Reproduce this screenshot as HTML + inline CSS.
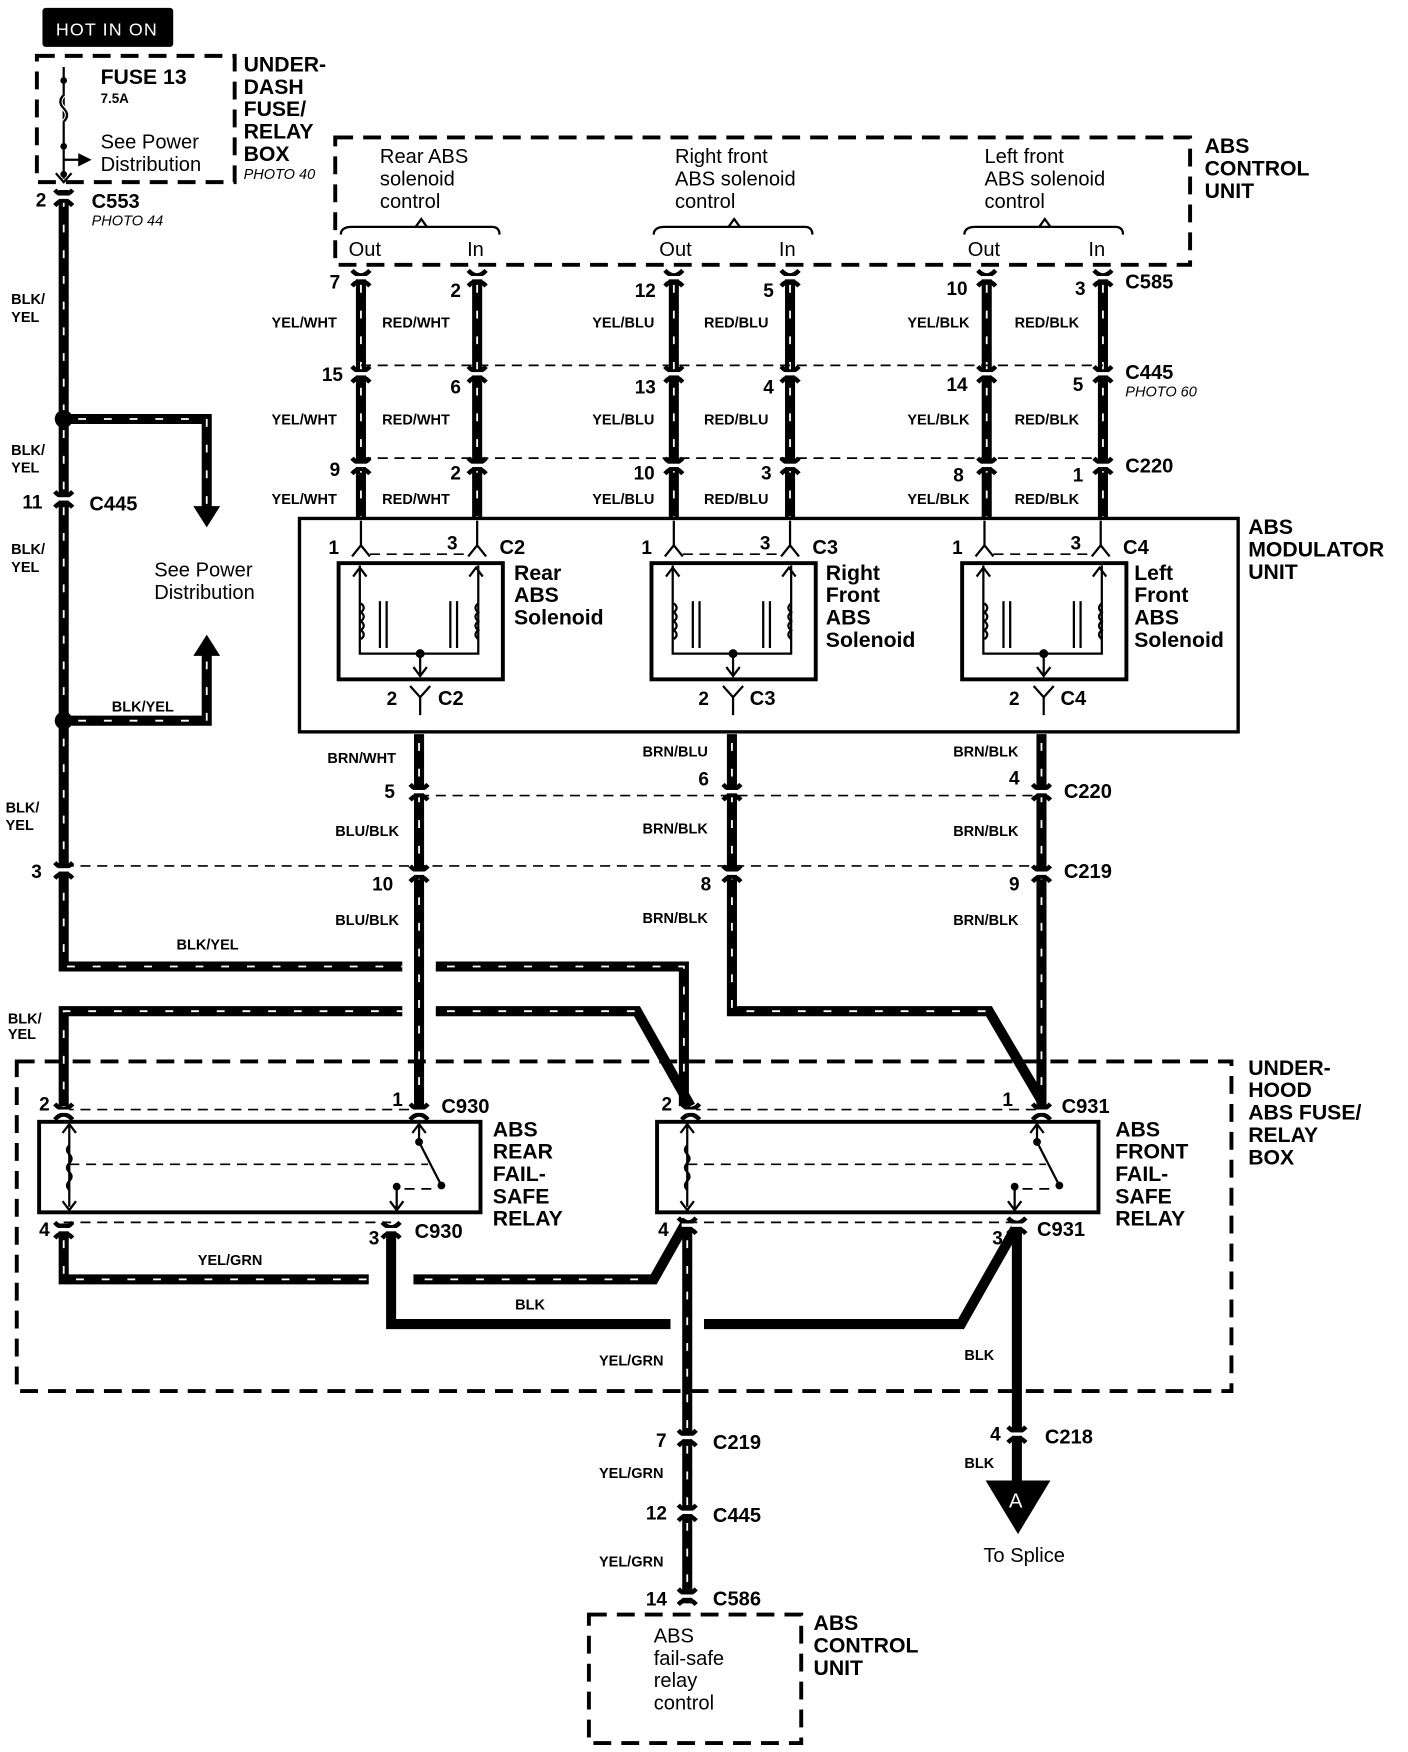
<!DOCTYPE html>
<html><head><meta charset="utf-8"><style>
html,body{margin:0;padding:0;background:#fff}
svg{display:block}
text{font-family:"Liberation Sans",Arial,sans-serif;fill:#000}
.b{font-weight:bold}
.w{fill:none;stroke:#000;stroke-width:9;stroke-linejoin:miter}
.d{fill:none;stroke:#fff;stroke-width:1.6;stroke-dasharray:7 16}
.t{fill:none;stroke:#000;stroke-width:2}
.dl{fill:none;stroke:#000;stroke-width:1.5;stroke-dasharray:9 6}
.db{fill:none;stroke:#000;stroke-width:3.5;stroke-dasharray:16 9}
.wl{font-size:13px;font-weight:bold}
.pn{font-size:17px;font-weight:bold}
.cl{font-size:18px;font-weight:bold}
.big{font-size:19px;font-weight:bold}
.ph{font-size:13px;font-style:italic}
.rg{font-size:18px}
</style></head><body>
<svg width="1408" height="1752" viewBox="0 0 1260 1568" preserveAspectRatio="none" xmlns="http://www.w3.org/2000/svg">
<defs>
<g id="cn"><path d="M-8,-10 Q0,-1 8,-10 M-8,4 Q0,-5 8,4" fill="none" stroke="#000" stroke-width="4"/><rect x="-5" y="-5" width="10" height="3" fill="#fff"/></g>
</defs>

<rect x="38" y="7" width="117" height="35" rx="3" fill="#000"/>
<text x="50" y="32" font-size="16" style="fill:#fff;letter-spacing:1px">HOT IN ON</text>

<rect x="33" y="50" width="177" height="113" class="db"/>
<line x1="57" y1="60" x2="57" y2="160" class="t"/>
<path d="M57,85 q-6,6 0,12 q6,6 0,12" fill="none" stroke="#fff" stroke-width="4"/>
<path d="M57,85 q-6,6 0,12 q6,6 0,12" fill="none" stroke="#000" stroke-width="2"/>
<circle cx="57" cy="72" r="3"/><circle cx="57" cy="131" r="3"/><circle cx="57" cy="156" r="3"/>
<line x1="57" y1="143" x2="72" y2="143" class="t"/><path d="M70,137 L82,143 L70,149Z"/>
<path d="M50,155 L57,163 L64,155" class="t"/>
<text x="90" y="75" class="big">FUSE 13</text>
<text x="90" y="92" font-size="12" class="b">7.5A</text>
<text x="90" y="133" class="rg">See Power</text>
<text x="90" y="153" class="rg">Distribution</text>
<text x="218" y="64" class="big">UNDER-</text>
<text x="218" y="84" class="big">DASH</text>
<text x="218" y="104" class="big">FUSE/</text>
<text x="218" y="124" class="big">RELAY</text>
<text x="218" y="144" class="big">BOX</text>
<text x="218" y="160" class="ph">PHOTO 40</text>

<path d="M57,170 V865 H360" class="w"/><path d="M57,178 V865 H360" class="d"/>
<use href="#cn" x="57" y="180"/>
<text x="32" y="185" class="pn">2</text>
<text x="82" y="186" class="cl">C553</text>
<text x="82" y="202" class="ph">PHOTO 44</text>
<text x="10" y="272" class="wl">BLK/</text><text x="10" y="288" class="wl">YEL</text>
<circle cx="57" cy="375" r="8"/>
<path d="M57,375 H185 V455" class="w"/><path d="M70,375 H185 V455" class="d"/>
<path d="M173,453 L185,472 L197,453Z"/>
<text x="10" y="407" class="wl">BLK/</text><text x="10" y="423" class="wl">YEL</text>
<use href="#cn" x="57" y="450"/>
<text x="20" y="455" class="pn">11</text>
<text x="80" y="457" class="cl">C445</text>
<text x="10" y="496" class="wl">BLK/</text><text x="10" y="512" class="wl">YEL</text>
<text x="138" y="516" class="rg">See Power</text>
<text x="138" y="536" class="rg">Distribution</text>
<circle cx="57" cy="645" r="8"/>
<path d="M57,645 H185 V585" class="w"/><path d="M70,645 H185 V585" class="d"/>
<path d="M173,587 L185,568 L197,587Z"/>
<text x="100" y="637" class="wl">BLK/YEL</text>
<text x="5" y="727" class="wl">BLK/</text><text x="5" y="743" class="wl">YEL</text>
<use href="#cn" x="57" y="782"/>
<text x="28" y="786" class="pn">3</text>
<text x="158" y="850" class="wl">BLK/YEL</text>

<rect x="300" y="123" width="765" height="114" class="db"/>
<text x="340" y="146" class="rg">Rear ABS</text><text x="340" y="166" class="rg">solenoid</text><text x="340" y="186" class="rg">control</text>
<text x="604" y="146" class="rg">Right  front</text><text x="604" y="166" class="rg">ABS solenoid</text><text x="604" y="186" class="rg">control</text>
<text x="881" y="146" class="rg">Left  front</text><text x="881" y="166" class="rg">ABS solenoid</text><text x="881" y="186" class="rg">control</text>
<path d="M305,210 Q305,203 315,203 H440 Q447,203 447,210" class="t" stroke-width="3"/><path d="M372,203 L377,196 L382,203" class="t"/>
<path d="M585,210 Q585,203 595,203 H720 Q727,203 727,210" class="t" stroke-width="3"/><path d="M652,203 L657,196 L662,203" class="t"/>
<path d="M863,210 Q863,203 873,203 H998 Q1005,203 1005,210" class="t" stroke-width="3"/><path d="M930,203 L935,196 L940,203" class="t"/>
<text x="312" y="229" class="rg">Out</text><text x="418" y="229" class="rg">In</text>
<text x="590" y="229" class="rg">Out</text><text x="697" y="229" class="rg">In</text>
<text x="866" y="229" class="rg">Out</text><text x="974" y="229" class="rg">In</text>
<text x="1078" y="137" class="big">ABS</text><text x="1078" y="157" class="big">CONTROL</text><text x="1078" y="177" class="big">UNIT</text>

<g>
<path d="M323,245 V465 M427,245 V465 M603,245 V465 M707,245 V465 M883,245 V465 M987,245 V465" class="w"/>
<path d="M323,255 V465 M427,255 V465 M603,255 V465 M707,255 V465 M883,255 V465 M987,255 V465" class="d"/>
</g>
<line x1="323" y1="327" x2="987" y2="327" class="dl"/>
<line x1="323" y1="410" x2="987" y2="410" class="dl"/>
<g>
<use href="#cn" x="323" y="252"/><use href="#cn" x="427" y="252"/><use href="#cn" x="603" y="252"/><use href="#cn" x="707" y="252"/><use href="#cn" x="883" y="252"/><use href="#cn" x="987" y="252"/>
<use href="#cn" x="323" y="338"/><use href="#cn" x="427" y="338"/><use href="#cn" x="603" y="338"/><use href="#cn" x="707" y="338"/><use href="#cn" x="883" y="338"/><use href="#cn" x="987" y="338"/>
<use href="#cn" x="323" y="420"/><use href="#cn" x="427" y="420"/><use href="#cn" x="603" y="420"/><use href="#cn" x="707" y="420"/><use href="#cn" x="883" y="420"/><use href="#cn" x="987" y="420"/>
</g>
<text x="295" y="258" class="pn">7</text><text x="403" y="266" class="pn">2</text><text x="568" y="266" class="pn">12</text><text x="683" y="266" class="pn">5</text><text x="847" y="264" class="pn">10</text><text x="962" y="264" class="pn">3</text>
<text x="1007" y="258" class="cl">C585</text>
<text x="288" y="341" class="pn">15</text><text x="403" y="352" class="pn">6</text><text x="568" y="352" class="pn">13</text><text x="683" y="352" class="pn">4</text><text x="847" y="350" class="pn">14</text><text x="960" y="350" class="pn">5</text>
<text x="1007" y="339" class="cl">C445</text><text x="1007" y="355" class="ph">PHOTO 60</text>
<text x="295" y="426" class="pn">9</text><text x="403" y="429" class="pn">2</text><text x="567" y="429" class="pn">10</text><text x="681" y="429" class="pn">3</text><text x="853" y="431" class="pn">8</text><text x="960" y="431" class="pn">1</text>
<text x="1007" y="423" class="cl">C220</text>
<g class="wl">
<text x="243" y="293">YEL/WHT</text><text x="342" y="293">RED/WHT</text><text x="530" y="293">YEL/BLU</text><text x="630" y="293">RED/BLU</text><text x="812" y="293">YEL/BLK</text><text x="908" y="293">RED/BLK</text>
<text x="243" y="380">YEL/WHT</text><text x="342" y="380">RED/WHT</text><text x="530" y="380">YEL/BLU</text><text x="630" y="380">RED/BLU</text><text x="812" y="380">YEL/BLK</text><text x="908" y="380">RED/BLK</text>
<text x="243" y="451">YEL/WHT</text><text x="342" y="451">RED/WHT</text><text x="530" y="451">YEL/BLU</text><text x="630" y="451">RED/BLU</text><text x="812" y="451">YEL/BLK</text><text x="908" y="451">RED/BLK</text>
</g>

<rect x="268" y="464" width="840" height="191" fill="#fff" stroke="#000" stroke-width="3"/>
<text x="1117" y="478" class="big">ABS</text><text x="1117" y="498" class="big">MODULATOR</text><text x="1117" y="518" class="big">UNIT</text>
<g id="sol">
<line x1="323" y1="466" x2="323" y2="490" class="t"/><path d="M315,498 L323,488 L331,498" class="t"/>
<line x1="427" y1="466" x2="427" y2="490" class="t"/><path d="M419,498 L427,488 L435,498" class="t"/>
<line x1="331" y1="496" x2="419" y2="496" class="dl" stroke-width="2"/>
<rect x="303" y="504" width="147" height="104" fill="none" stroke="#000" stroke-width="3.5"/>
<path d="M322,506 V585 H428 V506" class="t"/>
<path d="M316,516 L322,508 L328,516 M420,516 L426,508 L432,516" class="t"/>
<path d="M323,540 q5,4 0,8 q5,4 0,8 q5,4 0,8 q5,4 0,8 M428,540 q-5,4 0,8 q-5,4 0,8 q-5,4 0,8 q-5,4 0,8" fill="none" stroke="#000" stroke-width="2"/>
<path d="M340,538 V580 M346,538 V580 M403,538 V580 M409,538 V580" class="t"/>
<circle cx="376" cy="585" r="4"/><line x1="376" y1="585" x2="376" y2="605" class="t"/><path d="M370,597 L376,605 L382,597" class="t"/>
<path d="M367,614 L376,624 L385,614 M376,624 V640" class="t"/>
</g>
<use href="#sol" x="280"/><use href="#sol" x="558"/>
<text x="294" y="496" class="pn">1</text><text x="400" y="492" class="pn">3</text><text x="447" y="496" class="cl">C2</text>
<text x="574" y="496" class="pn">1</text><text x="680" y="492" class="pn">3</text><text x="727" y="496" class="cl">C3</text>
<text x="852" y="496" class="pn">1</text><text x="958" y="492" class="pn">3</text><text x="1005" y="496" class="cl">C4</text>
<text x="460" y="519" class="big">Rear</text><text x="460" y="539" class="big">ABS</text><text x="460" y="559" class="big">Solenoid</text>
<text x="739" y="519" class="big">Right</text><text x="739" y="539" class="big">Front</text><text x="739" y="559" class="big">ABS</text><text x="739" y="579" class="big">Solenoid</text>
<text x="1015" y="519" class="big">Left</text><text x="1015" y="539" class="big">Front</text><text x="1015" y="559" class="big">ABS</text><text x="1015" y="579" class="big">Solenoid</text>
<text x="346" y="631" class="pn">2</text><text x="392" y="631" class="cl">C2</text>
<text x="625" y="631" class="pn">2</text><text x="671" y="631" class="cl">C3</text>
<text x="903" y="631" class="pn">2</text><text x="949" y="631" class="cl">C4</text>

<path d="M375,657 V992" class="w"/><path d="M375,665 V985" class="d"/>
<path d="M655,657 V905 H885 L932,985" class="w"/><path d="M655,665 V905 H885" class="d"/>
<path d="M932,657 V992" class="w"/><path d="M932,665 V985" class="d"/>
<line x1="375" y1="712" x2="932" y2="712" class="dl"/>
<line x1="57" y1="775" x2="932" y2="775" class="dl"/>
<use href="#cn" x="375" y="712"/><use href="#cn" x="655" y="712"/><use href="#cn" x="932" y="712"/>
<use href="#cn" x="375" y="785"/><use href="#cn" x="655" y="785"/><use href="#cn" x="932" y="785"/>
<g class="wl">
<text x="293" y="683">BRN/WHT</text><text x="575" y="677">BRN/BLU</text><text x="853" y="677">BRN/BLK</text>
<text x="300" y="748">BLU/BLK</text><text x="575" y="746">BRN/BLK</text><text x="853" y="748">BRN/BLK</text>
<text x="300" y="828">BLU/BLK</text><text x="575" y="826">BRN/BLK</text><text x="853" y="828">BRN/BLK</text>
</g>
<text x="344" y="714" class="pn">5</text><text x="625" y="703" class="pn">6</text><text x="903" y="702" class="pn">4</text><text x="952" y="714" class="cl">C220</text>
<text x="333" y="797" class="pn">10</text><text x="627" y="797" class="pn">8</text><text x="903" y="797" class="pn">9</text><text x="952" y="786" class="cl">C219</text>

<path d="M390,865 H612 V990" class="w"/><path d="M400,865 H612 V975" class="d"/>
<path d="M57,990 V905 H360" class="w"/><path d="M57,975 V905 H360" class="d"/>
<path d="M390,905 H570 L618,990" class="w"/><path d="M400,905 H570" class="d"/>
<text x="7" y="916" class="wl">BLK/</text><text x="7" y="930" class="wl">YEL</text>

<rect x="15" y="950" width="1087" height="295" class="db"/>
<text x="1117" y="962" class="big">UNDER-</text><text x="1117" y="982" class="big">HOOD</text><text x="1117" y="1002" class="big">ABS FUSE/</text><text x="1117" y="1022" class="big">RELAY</text><text x="1117" y="1042" class="big">BOX</text>

<line x1="57" y1="993" x2="375" y2="993" class="dl" stroke-width="2"/>
<line x1="618" y1="993" x2="932" y2="993" class="dl" stroke-width="2"/>
<use href="#cn" x="57" y="998"/><use href="#cn" x="375" y="998"/><use href="#cn" x="618" y="998"/><use href="#cn" x="932" y="998"/>
<text x="35" y="994" class="pn">2</text><text x="351" y="990" class="pn">1</text><text x="395" y="996" class="cl">C930</text>
<text x="592" y="994" class="pn">2</text><text x="897" y="990" class="pn">1</text><text x="950" y="996" class="cl">C931</text>
<g id="rel">
<rect x="35" y="1004" width="395" height="81" fill="none" stroke="#000" stroke-width="3.5"/>
<path d="M62,1007 V1080 M56,1014 L62,1006 L68,1014 M56,1075 L62,1083 L68,1075" class="t"/>
<path d="M62,1025 q-4,4 0,8 q4,4 0,8 q-4,4 0,8 q4,4 0,8 q-4,4 0,8" fill="none" stroke="#000" stroke-width="2"/>
<line x1="62" y1="1042" x2="383" y2="1042" class="dl" stroke-width="2"/>
<path d="M375,1007 V1022 L395,1061 M369,1014 L375,1006 L381,1014" class="t"/>
<circle cx="375" cy="1022" r="3.5"/><circle cx="395" cy="1061" r="3.5"/>
<circle cx="355" cy="1062" r="3.5"/><path d="M355,1062 V1082 M349,1075 L355,1083 L361,1075" class="t"/>
<line x1="362" y1="1064" x2="390" y2="1064" class="dl" stroke-width="2"/>
</g>
<use href="#rel" x="553"/>
<text x="441" y="1017" class="big">ABS</text><text x="441" y="1037" class="big">REAR</text><text x="441" y="1057" class="big">FAIL-</text><text x="441" y="1077" class="big">SAFE</text><text x="441" y="1097" class="big">RELAY</text>
<text x="998" y="1017" class="big">ABS</text><text x="998" y="1037" class="big">FRONT</text><text x="998" y="1057" class="big">FAIL-</text><text x="998" y="1077" class="big">SAFE</text><text x="998" y="1097" class="big">RELAY</text>

<line x1="57" y1="1094" x2="350" y2="1094" class="dl" stroke-width="2"/>
<line x1="615" y1="1094" x2="910" y2="1094" class="dl" stroke-width="2"/>
<path d="M57,1095 V1145 H330" class="w"/><path d="M57,1110 V1145 H330" class="d"/>
<path d="M370,1145 H585 L615,1092" class="w"/><path d="M380,1145 H580" class="d"/>
<path d="M350,1100 V1185 H600" class="w"/>
<path d="M630,1185 H860 L910,1097" class="w"/>
<path d="M615,1092 V1435" class="w"/><path d="M615,1110 V1430" class="d"/>
<path d="M910,1097 V1330" class="w"/>
<use href="#cn" x="57" y="1104"/><use href="#cn" x="350" y="1104"/><use href="#cn" x="615" y="1100"/><use href="#cn" x="910" y="1100"/>
<text x="35" y="1106" class="pn">4</text><text x="330" y="1114" class="pn">3</text><text x="371" y="1108" class="cl">C930</text>
<text x="589" y="1106" class="pn">4</text><text x="888" y="1114" class="pn">3</text><text x="928" y="1106" class="cl">C931</text>
<text x="177" y="1132" class="wl">YEL/GRN</text>
<text x="461" y="1172" class="wl">BLK</text>
<text x="536" y="1222" class="wl">YEL/GRN</text>
<text x="863" y="1217" class="wl">BLK</text>

<use href="#cn" x="615" y="1290"/><use href="#cn" x="615" y="1357"/><use href="#cn" x="615" y="1432"/>
<use href="#cn" x="910" y="1287"/>
<text x="587" y="1295" class="pn">7</text><text x="638" y="1297" class="cl">C219</text>
<text x="536" y="1323" class="wl">YEL/GRN</text>
<text x="578" y="1360" class="pn">12</text><text x="638" y="1362" class="cl">C445</text>
<text x="536" y="1402" class="wl">YEL/GRN</text>
<text x="578" y="1437" class="pn">14</text><text x="638" y="1437" class="cl">C586</text>
<text x="886" y="1289" class="pn">4</text><text x="935" y="1292" class="cl">C218</text>
<text x="863" y="1314" class="wl">BLK</text>
<path d="M882,1325 H940 L911,1373Z"/>
<text x="903" y="1349" font-size="18" style="fill:#fff">A</text>
<text x="880" y="1398" class="rg">To Splice</text>

<rect x="527" y="1445" width="190" height="115" class="db"/>
<text x="585" y="1470" class="rg">ABS</text><text x="585" y="1490" class="rg">fail-safe</text><text x="585" y="1510" class="rg">relay</text><text x="585" y="1530" class="rg">control</text>
<text x="728" y="1459" class="big">ABS</text><text x="728" y="1479" class="big">CONTROL</text><text x="728" y="1499" class="big">UNIT</text>
</svg>
</body></html>
